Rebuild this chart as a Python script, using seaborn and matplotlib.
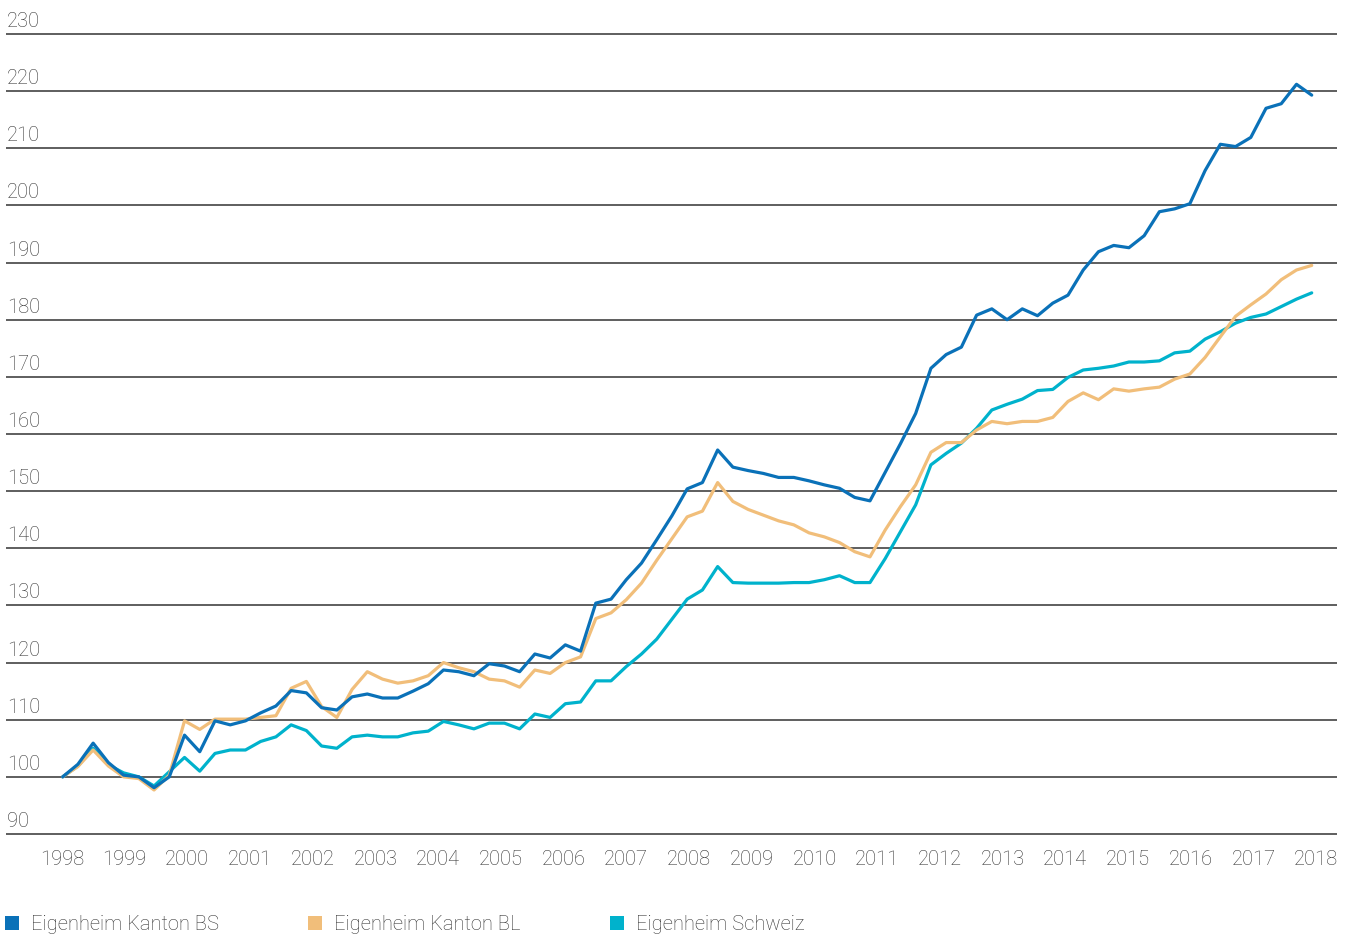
import numpy as np
import pandas as pd
import seaborn as sns
import matplotlib.pyplot as plt
from matplotlib.patches import Patch
from matplotlib import transforms

# Eigenheim-Preisindex, quartalsweise (1998 = 100)
years = list(range(1998, 2019))
y_ticks = list(range(90, 231, 10))

bs = [100.0, 102.2, 105.9, 102.5, 100.3, 100.0, 98.1, 100.0, 107.3, 104.4,
      109.8, 109.1, 109.8, 111.2, 112.4, 115.1, 114.7, 112.1, 111.7, 114.0,
      114.5, 113.8, 113.8, 115.0, 116.3, 118.7, 118.4, 117.7, 119.8, 119.4,
      118.4, 121.5, 120.8, 123.1, 122.0, 130.4, 131.1, 134.5, 137.4, 141.5,
      145.7, 150.4, 151.5, 157.2, 154.2, 153.6, 153.1, 152.4, 152.4, 151.8,
      151.1, 150.5, 148.9, 148.3, 153.3, 158.3, 163.6, 171.5, 173.9, 175.2,
      180.8, 181.9, 180.0, 181.9, 180.7, 182.9, 184.3, 188.7, 191.9, 193.0,
      192.6, 194.7, 198.9, 199.4, 200.3, 206.1, 210.7, 210.3, 211.9, 217.0,
      217.8, 221.2, 219.3]

bl = [100.0, 101.8, 104.7, 101.9, 100.0, 99.7, 97.7, 100.3, 109.8, 108.3,
      110.1, 110.1, 110.1, 110.4, 110.7, 115.5, 116.7, 112.3, 110.4, 115.3,
      118.4, 117.1, 116.4, 116.8, 117.7, 120.0, 119.1, 118.4, 117.1, 116.8,
      115.7, 118.7, 118.1, 120.0, 121.0, 127.7, 128.7, 131.0, 133.9, 137.9,
      141.7, 145.5, 146.5, 151.5, 148.2, 146.8, 145.8, 144.8, 144.1, 142.7,
      142.0, 141.0, 139.4, 138.5, 143.2, 147.3, 151.1, 156.8, 158.5, 158.5,
      160.7, 162.2, 161.8, 162.2, 162.2, 162.9, 165.7, 167.2, 166.0, 167.9,
      167.5, 167.9, 168.2, 169.6, 170.5, 173.4, 177.0, 180.6, 182.6, 184.5,
      187.0, 188.7, 189.5]

ch = [100.0, 101.9, 105.0, 102.1, 100.7, 100.0, 98.4, 100.9, 103.4, 101.0,
      104.1, 104.7, 104.7, 106.2, 107.0, 109.1, 108.1, 105.4, 105.0, 107.0,
      107.3, 107.0, 107.0, 107.7, 108.0, 109.7, 109.1, 108.4, 109.4, 109.4,
      108.4, 111.0, 110.4, 112.8, 113.1, 116.8, 116.8, 119.3, 121.5, 124.1,
      127.6, 131.1, 132.7, 136.8, 134.0, 133.9, 133.9, 133.9, 134.0, 134.0,
      134.5, 135.2, 134.0, 134.0, 138.2, 142.9, 147.6, 154.6, 156.6, 158.4,
      161.0, 164.2, 165.2, 166.1, 167.6, 167.8, 169.9, 171.2, 171.5, 171.9,
      172.6, 172.6, 172.8, 174.2, 174.5, 176.6, 177.9, 179.4, 180.4, 181.0,
      182.3, 183.6, 184.7]

series = ['Eigenheim Kanton BS', 'Eigenheim Kanton BL', 'Eigenheim Schweiz']
colors = ['#0a71b8', '#f1be7a', '#00b2cc']
palette = dict(zip(series, colors))

df = pd.DataFrame({'quartal': range(len(bs)),
                   series[0]: bs, series[1]: bl, series[2]: ch})
df = df.melt(id_vars='quartal', var_name='serie', value_name='index')

sns.set_theme(style='white')
plt.rcParams['font.family'] = ['Roboto', 'DejaVu Sans']
text_color = '#333333'
fs = 14.5

fig = plt.figure(figsize=(13.54, 9.36), dpi=100)
ax = fig.add_axes([6 / 1354, 1 - 838 / 936, (1337 - 6) / 1354, (838 - 30) / 936])

# horizontal grid lines
for v in y_ticks:
    ax.axhline(v, color='#333333', lw=1.1, zorder=0)

# draw order: CH, BL, BS on top
sns.lineplot(data=df, x='quartal', y='index', hue='serie',
             hue_order=[series[2], series[1], series[0]],
             palette=palette, linewidth=2.3, legend=False, ax=ax)

ax.set_xlim(-3.72, 83.66)
ax.set_ylim(89.3, 230.7)
sns.despine(ax=ax, left=True, bottom=True)

# y labels sit above their grid line, at the left edge
ax.set_yticks([])
trans = transforms.blended_transform_factory(ax.transAxes, ax.transData)
for v in y_ticks:
    ax.annotate(str(v), xy=(0, v), xycoords=trans, xytext=(0.5, 5),
                textcoords='offset points', ha='left', va='baseline',
                fontsize=fs, color=text_color, fontweight='light')

ax.set_xticks(np.linspace(-0.05, 82.3, len(years)))
ax.set_xticklabels([str(y) for y in years], fontsize=fs, color=text_color,
                   fontweight='light')
ax.tick_params(axis='x', length=0, pad=8.5)
ax.set_xlabel('')
ax.set_ylabel('')

handles = [Patch(facecolor=c, edgecolor='none', label=s) for s, c in zip(series, colors)]
leg = fig.legend(handles=handles, loc='lower left', bbox_to_anchor=(5 / 1354, 2 / 936),
                 ncol=3, frameon=False, fontsize=fs, handlelength=0.7,
                 handleheight=0.75, handletextpad=0.6, columnspacing=4.42,
                 borderpad=0, borderaxespad=0)
for t in leg.get_texts():
    t.set_color(text_color)
    t.set_fontweight('light')

fig.savefig('out.png', dpi=100)
